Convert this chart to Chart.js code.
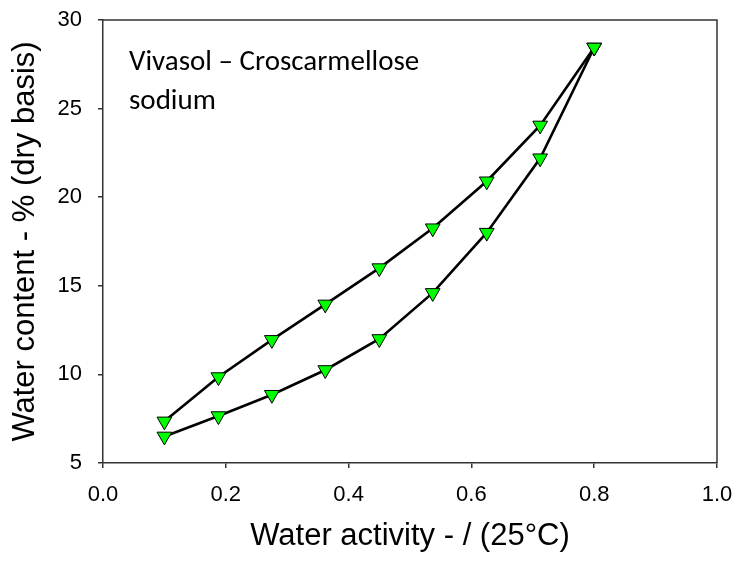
<!DOCTYPE html>
<html>
<head>
<meta charset="utf-8">
<script src="https://cdn.jsdelivr.net/npm/chart.js@4/dist/chart.umd.min.js"></script>
<style>
  html, body { margin: 0; padding: 0; background: #fff; }
  #c { display: block; }
</style>
</head>
<body>
<canvas id="c" width="737" height="563"></canvas>
<script>
// Water activity steps (x)
const activity = [0.1, 0.188, 0.275, 0.362, 0.45, 0.537, 0.625, 0.712, 0.8];
// Sorption branch (lower curve), % dry basis
const sorption = [6.5, 7.65, 8.85, 10.25, 12.0, 14.6, 18.0, 22.2, 28.45];
// Desorption branch (upper curve), listed at the same activities
const desorption = [7.35, 9.85, 11.95, 13.95, 16.0, 18.25, 20.9, 24.05, 28.45];
const xTicks = [0.0, 0.2, 0.4, 0.6, 0.8, 1.0];
const yTicks = [5, 10, 15, 20, 25, 30];
const noteLines = ['Vivasol \u2013 Croscarmellose', 'sodium'];
const xTitle = 'Water activity - / (25\u00B0C)';
const yTitle = 'Water content - % (dry basis)';

const sorptionPts = activity.map((x, i) => ({ x, y: sorption[i] }));
const desorptionPts = activity.map((x, i) => ({ x, y: desorption[i] })).reverse();

const markerStyle = {
  showLine: true,
  borderColor: '#000',
  borderWidth: 2.6,
  pointStyle: 'triangle',
  pointRotation: 180,
  pointRadius: 8.5,
  pointBackgroundColor: '#00FF00',
  pointBorderColor: '#000',
  pointBorderWidth: 1,
  fill: false,
  tension: 0
};

const frame = {
  id: 'frame',
  afterDraw(chart) {
    const { ctx, chartArea: a } = chart;
    ctx.save();
    ctx.strokeStyle = '#333';
    ctx.lineWidth = 1.5;
    ctx.beginPath();
    ctx.moveTo(a.left, a.top);
    ctx.lineTo(a.right, a.top);
    ctx.lineTo(a.right, a.bottom);
    ctx.stroke();
    // note text
    ctx.fillStyle = '#000';
    ctx.font = '29px Carlito, Calibri, Lato, sans-serif';
    ctx.textBaseline = 'alphabetic';
    ctx.textAlign = 'left';
    ctx.fillText(noteLines[0], a.left + 26, a.top + 49.5, 293);
    ctx.fillText(noteLines[1], a.left + 26, a.top + 88.5);
    ctx.restore();
  }
};

function zeroPad(s) { s.paddingLeft = 0; s.paddingRight = 0; s.paddingTop = 0; s.paddingBottom = 0; }

new Chart(document.getElementById('c'), {
  type: 'scatter',
  data: {
    datasets: [
      Object.assign({ label: 'Sorption', data: sorptionPts }, markerStyle),
      Object.assign({ label: 'Desorption', data: desorptionPts }, markerStyle)
    ]
  },
  options: {
    responsive: false,
    animation: false,
    layout: { padding: { top: 20, right: 20, left: 0, bottom: 0 } },
    plugins: { legend: { display: false }, tooltip: { enabled: false } },
    scales: {
      x: {
        type: 'linear',
        min: 0, max: 1,
        afterFit(s) { s.height = 100; zeroPad(s); },
        afterBuildTicks(s) { s.ticks = xTicks.map(v => ({ value: v })); },
        ticks: {
          autoSkip: false, maxRotation: 0,
          color: '#000',
          font: { family: 'Liberation Sans, Arial, sans-serif', size: 22 },
          padding: 14,
          callback: v => Number(v).toFixed(1)
        },
        grid: { drawOnChartArea: false, drawTicks: true, tickLength: 5, color: '#333', lineWidth: 1.5 },
        border: { display: true, color: '#333', width: 1.5 },
        title: {
          display: true, text: xTitle, color: '#000',
          font: { family: 'Liberation Sans, Arial, sans-serif', size: 31 },
          padding: { top: 0, bottom: 8 }
        }
      },
      y: {
        type: 'linear',
        min: 5, max: 30,
        afterFit(s) { s.width = 103; zeroPad(s); },
        afterBuildTicks(s) { s.ticks = yTicks.map(v => ({ value: v })); },
        ticks: {
          autoSkip: false,
          color: '#000',
          font: { family: 'Liberation Sans, Arial, sans-serif', size: 22 },
          padding: 16
        },
        grid: { drawOnChartArea: false, drawTicks: true, tickLength: 5, color: '#333', lineWidth: 1.5 },
        border: { display: true, color: '#333', width: 1.5 },
        title: {
          display: true, text: yTitle, color: '#000',
          font: { family: 'Liberation Sans, Arial, sans-serif', size: 31 },
          padding: { top: 7, bottom: 0 }
        }
      }
    }
  },
  plugins: [frame]
});
</script>
</body>
</html>
